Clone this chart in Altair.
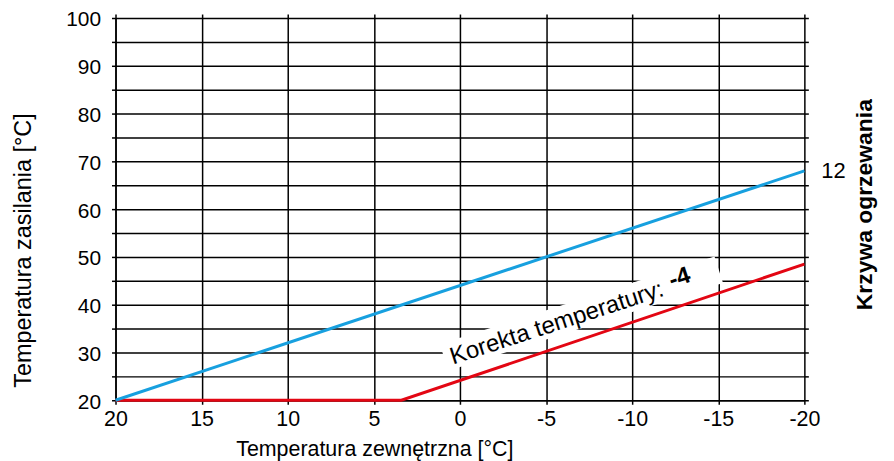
import altair as alt
import pandas as pd

# ---- data ----
x_ticks = [20, 15, 10, 5, 0, -5, -10, -15, -20]
y_ticks = [20, 25, 30, 35, 40, 45, 50, 55, 60, 65, 70, 75, 80, 85, 90, 95, 100]

blue_x = [20, -20]
blue_y = [20, 68]
red_x = [20, 3.4, -20]
red_y = [20, 20, 48.5]

box_x = [0.92, -15.03]
box_y = [28.96, 47.3]

label_text = ["Korekta temperatury:"]
label_x = [0.4]
label_y = [27.5]
bold_text = ["-4"]
bold_x = [-12.3]
bold_y = [43.5]

curve_text = ["12"]
curve_x = [-20]
curve_y = [68]

FONT = "Liberation Sans"
BLACK = "#000000"

xs = alt.Scale(domain=[-20, 20], reverse=True, nice=False, zero=False)
ys = alt.Scale(domain=[20, 100], nice=False, zero=False)

x_bottom = alt.Axis(
    orient="bottom", values=x_ticks, title="Temperatura zewnętrzna [°C]",
    labelExpr="'' + datum.value", labelFlush=False,
    grid=True, gridColor=BLACK, gridWidth=1.5,
    gridOpacity=1, domain=True, domainColor=BLACK, domainWidth=1.5,
    ticks=True, tickColor=BLACK, tickWidth=1.5, tickSize=4,
    labelFontSize=21.5, labelColor=BLACK, labelPadding=4, labelFont=FONT,
    titleFontSize=21.5, titleColor=BLACK, titleFont=FONT, titleFontWeight="normal",
    titleX=260, titleY=38, titleAlign="center", titleBaseline="top",
)
y_left = alt.Axis(
    orient="left", values=y_ticks, title="Temperatura zasilania [°C]",
    labelExpr="datum.value % 10 == 0 ? datum.label : ''", labelFlush=False,
    labelOffset=2,
    grid=True, gridColor=BLACK, gridWidth=1.5, gridOpacity=1,
    domain=True, domainColor=BLACK, domainWidth=1.5,
    ticks=True, tickColor=BLACK, tickWidth=1.5, tickSize=4,
    labelFontSize=21, labelColor=BLACK, labelPadding=11, labelFont=FONT,
    titleFontSize=23.5, titleColor=BLACK, titleFont=FONT, titleFontWeight="normal",
    titleX=-80, titleY=233, titleAlign="center", titleBaseline="bottom", titleAngle=270,
)
x_top = alt.Axis(
    orient="top", values=x_ticks, title=None, labels=False, grid=False,
    domain=False, ticks=True, tickColor=BLACK, tickWidth=1.5, tickSize=4,
)
y_right = alt.Axis(
    orient="right", values=y_ticks, title="Krzywa ogrzewania", labels=False,
    grid=False, domain=False, ticks=True, tickColor=BLACK, tickWidth=1.5,
    tickSize=4, titleAngle=270, titleFontSize=23, titleFontWeight="bold",
    titleColor=BLACK, titleFont=FONT, titleX=72, titleY=187,
    titleAlign="center", titleBaseline="bottom",
)

df_blue = pd.DataFrame({"x": blue_x, "y": blue_y})
df_red = pd.DataFrame({"x": red_x, "y": red_y})
df_box = pd.DataFrame({"x": box_x, "y": box_y})
df_lab = pd.DataFrame({"x": label_x, "y": label_y, "t": label_text})
df_bold = pd.DataFrame({"x": bold_x, "y": bold_y, "t": bold_text})
df_curve = pd.DataFrame({"x": curve_x, "y": curve_y, "t": curve_text})

red = alt.Chart(df_red).mark_line(color="#e30613", strokeWidth=3).encode(
    x=alt.X("x:Q", scale=xs, axis=x_bottom),
    y=alt.Y("y:Q", scale=ys, axis=y_left),
)
blue = alt.Chart(df_blue).mark_line(color="#17a0df", strokeWidth=3).encode(
    x=alt.X("x:Q", scale=xs, axis=x_top),
    y=alt.Y("y:Q", scale=ys, axis=y_right),
)
box = alt.Chart(df_box).mark_line(color="white", strokeWidth=28, strokeCap="butt").encode(
    x=alt.X("x:Q", scale=xs, axis=None),
    y=alt.Y("y:Q", scale=ys, axis=None),
)
lab = alt.Chart(df_lab).mark_text(
    align="left", baseline="alphabetic", angle=342, fontSize=24, font=FONT, color=BLACK
).encode(
    x=alt.X("x:Q", scale=xs, axis=None),
    y=alt.Y("y:Q", scale=ys, axis=None),
    text="t:N",
)
bold = alt.Chart(df_bold).mark_text(
    align="left", baseline="alphabetic", angle=342, fontSize=24, font=FONT,
    fontWeight="bold", color=BLACK
).encode(
    x=alt.X("x:Q", scale=xs, axis=None),
    y=alt.Y("y:Q", scale=ys, axis=None),
    text="t:N",
)
curve = alt.Chart(df_curve).mark_text(
    align="left", baseline="middle", dx=17, fontSize=22, font=FONT, color=BLACK
).encode(
    x=alt.X("x:Q", scale=xs, axis=None),
    y=alt.Y("y:Q", scale=ys, axis=None),
    text="t:N",
)

chart = (
    alt.layer(red, blue, box, lab, bold, curve)
    .resolve_axis(x="independent", y="independent")
    .properties(
        width=692, height=384, background="white",
        autosize=alt.AutoSizeParams(type="none"),
        padding={"left": 108, "top": 9, "right": 82, "bottom": 70},
    )
    .configure_view(stroke=None)
    .configure_axis(zindex=0)
)

chart.save("out.html", embed_options={"renderer": "svg", "actions": False})
